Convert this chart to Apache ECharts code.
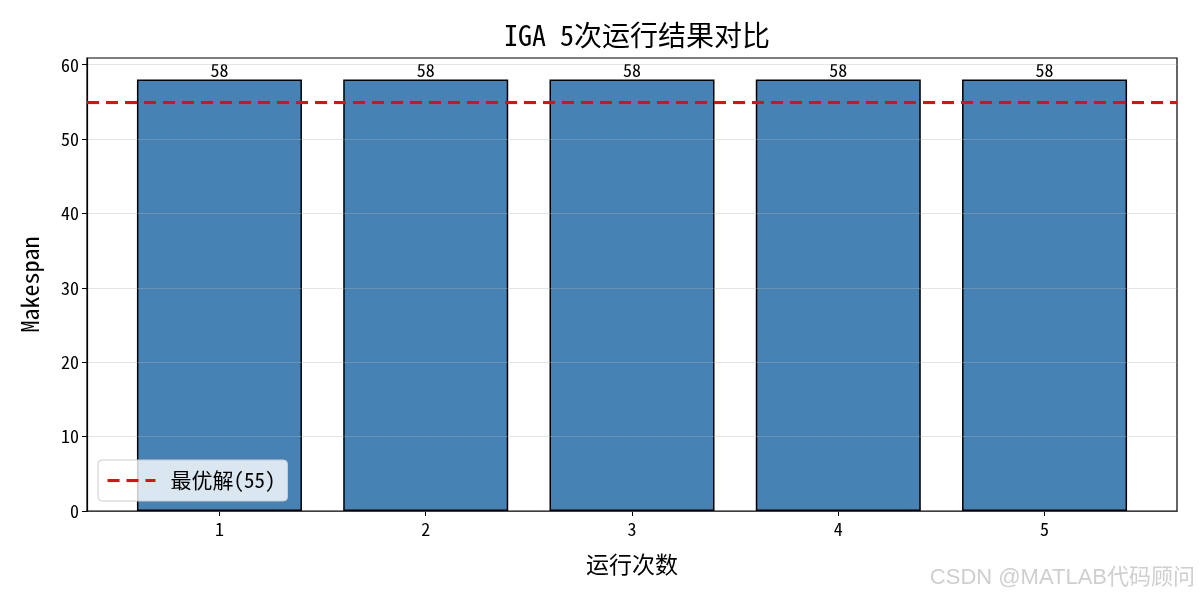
<!DOCTYPE html>
<html>
<head>
<meta charset="utf-8">
<script src="https://cdn.jsdelivr.net/npm/echarts@6/dist/echarts.min.js"></script>
<style>
  html, body { margin: 0; padding: 0; background: #fff; }
  #main { width: 1200px; height: 600px; }
</style>
</head>
<body>
<div id="main"></div>
<script>
// run index and makespan per run
var runs = [1, 2, 3, 4, 5];
var makespan = [58, 58, 58, 58, 58];
var best = 55;
var yTicks = [0, 10, 20, 30, 40, 50, 60];

var font = '"Noto Sans Mono CJK SC", "Noto Sans CJK SC", "DejaVu Sans", sans-serif';
var chart = echarts.init(document.getElementById('main'));

var barData = runs.map(function (r, i) { return [r, makespan[i]]; });

var option = {
    animation: false,
    title: {
        text: 'IGA 5次运行结果对比',
        left: 632, top: 16, textAlign: 'center',
        textStyle: { fontFamily: font, fontSize: 28, fontWeight: 'normal', color: '#000' }
    },
    legend: {
        left: 98, top: 460,
        orient: 'vertical',
        padding: [10, 12, 10, 8],
        backgroundColor: 'rgba(255,255,255,0.8)',
        borderColor: '#cccccc', borderWidth: 1, borderRadius: 4,
        itemWidth: 48, itemHeight: 12, itemGap: 6,
        itemStyle: { opacity: 0, borderWidth: 0 },
        lineStyle: { color: '#ff0000', width: 3, type: [12, 7] },
        textStyle: { fontFamily: font, fontSize: 21, color: '#000', padding: [0, 0, 0, 10] },
        data: [{ name: '最优解(' + best + ')' }]
    },
    grid: {
        left: 87, right: 23, top: 58, bottom: 89,
        show: true, borderColor: '#000', borderWidth: 1.2, backgroundColor: 'transparent'
    },
    xAxis: {
        type: 'value', min: 0.358, max: 5.642,
        name: '运行次数', nameLocation: 'middle', nameGap: 42,
        nameTextStyle: { fontFamily: font, fontSize: 23, color: '#000' },
        axisLine: { show: true, lineStyle: { color: '#000', width: 1.2 } },
        axisTick: { show: true, customValues: runs, length: 5, lineStyle: { color: '#000' } },
        axisLabel: { customValues: runs, fontFamily: font, fontSize: 18, color: '#000', margin: 9 },
        splitLine: { show: false }
    },
    yAxis: {
        type: 'value', min: 0, max: 60.9, z: 3,
        name: 'Makespan', nameLocation: 'middle', nameGap: 45,
        nameTextStyle: { fontFamily: font, fontSize: 24, color: '#000' },
        axisLine: { show: true, lineStyle: { color: '#000', width: 1.2 } },
        axisTick: { show: true, customValues: yTicks, length: 5, lineStyle: { color: '#000' } },
        axisLabel: { customValues: yTicks, fontFamily: font, fontSize: 18, color: '#000', margin: 8 },
        splitLine: { show: true, lineStyle: { color: 'rgba(180,180,180,0.35)', width: 1 } }
    },
    series: [
        {
            type: 'bar',
            name: 'Makespan',
            data: barData,
            barWidth: 165,
            itemStyle: { color: '#4682b4', borderColor: '#000', borderWidth: 1.5 },
            label: {
                show: true, position: 'top', distance: 0,
                fontFamily: font, fontSize: 18, color: '#000'
            }
        },
        {
            type: 'line',
            name: '最优解(' + best + ')',
            data: [],
            symbol: 'none',
            z: 5,
            lineStyle: { color: '#ff0000', type: [12, 7], width: 3 },
            itemStyle: { color: '#ff0000' },
            markLine: {
                silent: true, symbol: 'none',
                label: { show: false },
                lineStyle: { color: '#ff0000', type: [12, 7], width: 3 },
                data: [{ yAxis: best }]
            }
        }
    ],
    graphic: [{
        type: 'text',
        right: 5, top: 567,
        style: {
            text: 'CSDN @MATLAB代码顾问',
            font: '22px "Liberation Sans", "Noto Sans CJK SC", sans-serif',
            fill: '#cfcfcf',
            shadowColor: 'rgba(0,0,0,0.3)', shadowBlur: 1, shadowOffsetX: 1, shadowOffsetY: 1
        }
    }]
};

chart.setOption(option);
</script>
</body>
</html>
